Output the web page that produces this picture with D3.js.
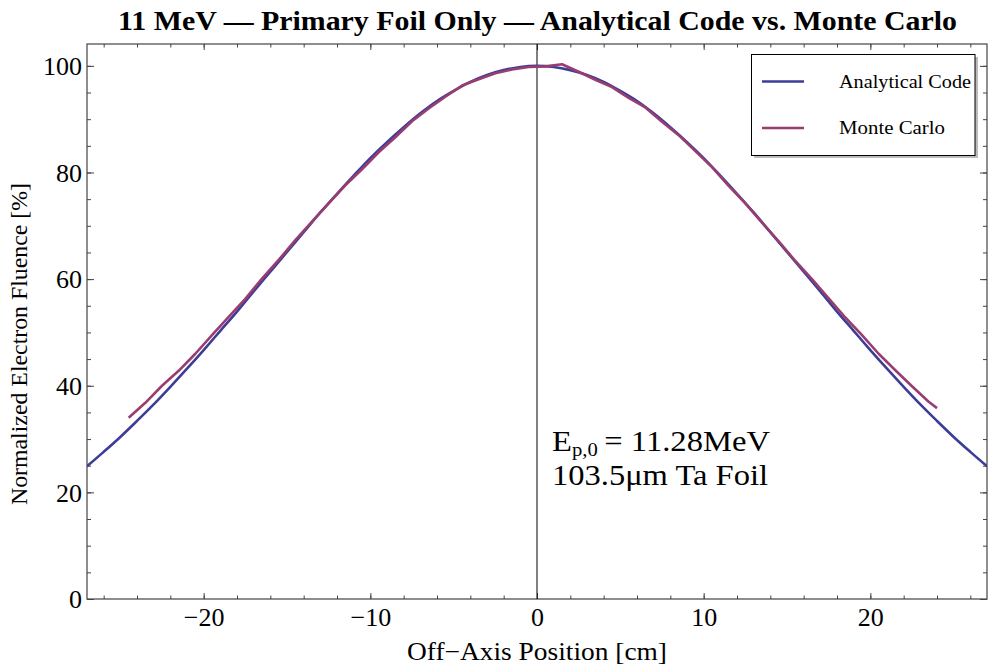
<!DOCTYPE html>
<html>
<head>
<meta charset="utf-8">
<script src="https://cdn.jsdelivr.net/npm/d3@7"></script>
<style>
  html, body { margin: 0; padding: 0; background: #fff; }
  svg { display: block; font-family: "Liberation Serif", "DejaVu Serif", serif; }
</style>
</head>
<body>
<svg id="chart" width="997" height="666"></svg>
<script>
// Off-axis position [cm] for the analytical curve
const analyticX = [-27,-26,-25,-24,-23,-22,-21,-20,-19,-18,-17,-16,-15,-14,-13,-12,-11,-10,-9,-8,-7,-6,-5,-4,-3,-2,-1,
  0,1,2,3,4,5,6,7,8,9,10,11,12,13,14,15,16,17,18,19,20,21,22,23,24,25,26,27];
// Normalized fluence [%] from the analytical code
const analyticY = [24.9,27.6,30.4,33.4,36.5,39.8,43.2,46.7,50.3,53.9,57.7,61.4,65.1,68.8,72.5,76.0,79.4,82.7,85.7,88.5,91.1,93.4,95.3,97.0,98.3,99.2,99.8,
  100,99.8,99.2,98.3,97.0,95.3,93.4,91.1,88.5,85.7,82.7,79.4,76.0,72.5,68.8,65.1,61.4,57.7,53.9,50.3,46.7,43.2,39.8,36.5,33.4,30.4,27.6,24.9];

// Monte Carlo bins [cm] and scored fluence [%]
const mcX = [-24.5,-23.5,-22.5,-21.5,-20.5,-19.5,-18.5,-17.5,-16.5,-15.5,-14.5,-13.5,-12.5,-11.5,-10.5,-9.5,-8.5,-7.5,-6.5,-5.5,-4.5,-3.5,-2.5,-1.5,-0.5,
  0.5,1.5,2.5,3.5,4.5,5.5,6.5,7.5,8.5,9.5,10.5,11.5,12.5,13.5,14.5,15.5,16.5,17.5,18.5,19.5,20.5,21.5,22.5,23.5,24.0];
const mcY = [34.0,36.8,40.0,42.8,46.0,49.5,52.9,56.3,60.1,63.6,67.3,70.8,74.2,77.6,80.6,83.8,86.6,89.6,92.0,94.2,96.3,97.5,98.6,99.3,99.8,
  99.9,100.3,98.9,97.4,96.0,94.0,92.2,89.5,87.0,84.0,81.0,77.5,74.2,70.6,67.1,63.4,60.0,56.4,52.8,49.5,46.0,42.9,39.9,37.0,35.8];

const xTicks = [-20,-10,0,10,20];
const yTicks = [0,20,40,60,80,100];
const seriesNames = ["Analytical Code", "Monte Carlo"];
const seriesColors = ["#3d3d99", "#993d71"];

const titleText = "11 MeV \u2014 Primary Foil Only \u2014 Analytical Code vs. Monte Carlo";
const xLabel = "Off\u2212Axis Position [cm]";
const yLabel = "Normalized Electron Fluence [%]";

const svg = d3.select("#chart");
const plot = { left: 87, right: 987, top: 44, bottom: 599 };

const x = d3.scaleLinear().domain([-27, 27]).range([plot.left, plot.right]);
const y = d3.scaleLinear().domain([0, 104.1]).range([plot.bottom, plot.top]);

const frameColor = "#444";

// Clip for curves
svg.append("defs").append("clipPath").attr("id", "plotClip")
  .append("rect").attr("x", plot.left).attr("y", plot.top)
  .attr("width", plot.right - plot.left).attr("height", plot.bottom - plot.top);

// Minor and major ticks on all four sides
const xMinor = d3.range(-26, 27, 2);
const yMinor = d3.range(0, 105, 5);

function addAxis(axisGen, transform, ticks, size, labels) {
  const g = svg.append("g").attr("transform", transform)
    .call(axisGen.tickValues(ticks).tickSize(size).tickSizeOuter(0));
  g.select(".domain").remove();
  g.selectAll(".tick line").attr("stroke", frameColor).attr("stroke-width", 1);
  if (!labels) g.selectAll(".tick text").remove();
  return g;
}

// bottom
addAxis(d3.axisTop(x), `translate(0,${plot.bottom})`, xMinor, 3.5, false);
const gxb = addAxis(d3.axisTop(x), `translate(0,${plot.bottom})`, xTicks, 6, true);
gxb.selectAll(".tick text").attr("y", 27).attr("dy", 0)
  .attr("font-size", 26).attr("fill", "#000").attr("font-family", "Liberation Serif");
// top
addAxis(d3.axisBottom(x), `translate(0,${plot.top})`, xMinor, 3.5, false);
addAxis(d3.axisBottom(x), `translate(0,${plot.top})`, xTicks, 6, false);
// left
addAxis(d3.axisRight(y), `translate(${plot.left},0)`, yMinor, 4, false);
const gyl = addAxis(d3.axisRight(y), `translate(${plot.left},0)`, yTicks, 7, true);
gyl.selectAll(".tick text").attr("x", -5).attr("dy", "0.34em").attr("text-anchor", "end")
  .attr("font-size", 26).attr("fill", "#000").attr("font-family", "Liberation Serif");
// right
addAxis(d3.axisLeft(y), `translate(${plot.right},0)`, yMinor, 4, false);
addAxis(d3.axisLeft(y), `translate(${plot.right},0)`, yTicks, 7, false);

// Frame
svg.append("rect")
  .attr("x", plot.left).attr("y", plot.top)
  .attr("width", plot.right - plot.left).attr("height", plot.bottom - plot.top)
  .attr("fill", "none").attr("stroke", frameColor).attr("stroke-width", 1.2);

// Beam axis marker
svg.append("line")
  .attr("x1", x(0)).attr("x2", x(0)).attr("y1", plot.top).attr("y2", plot.bottom)
  .attr("stroke", "#000").attr("stroke-width", 1);

// Curves
const curves = svg.append("g").attr("clip-path", "url(#plotClip)");
curves.append("path")
  .datum(d3.zip(analyticX, analyticY))
  .attr("d", d3.line().x(d => x(d[0])).y(d => y(d[1])).curve(d3.curveMonotoneX))
  .attr("fill", "none").attr("stroke", seriesColors[0]).attr("stroke-width", 2.6);
curves.append("path")
  .datum(d3.zip(mcX, mcY))
  .attr("d", d3.line().x(d => x(d[0])).y(d => y(d[1])))
  .attr("fill", "none").attr("stroke", seriesColors[1]).attr("stroke-width", 2.6)
  .attr("stroke-linejoin", "round");

// Annotation
const ann = svg.append("g").attr("font-size", 30).attr("fill", "#000");
const t1 = ann.append("text").attr("x", 552).attr("y", 451)
  .attr("textLength", 218).attr("lengthAdjust", "spacingAndGlyphs");
t1.append("tspan").text("E");
t1.append("tspan").attr("font-size", 19).attr("dy", 5).text("p,0");
t1.append("tspan").attr("dy", -5).text("\u2009= 11.28MeV");
ann.append("text").attr("x", 552).attr("y", 485)
  .attr("textLength", 216).attr("lengthAdjust", "spacingAndGlyphs").text("103.5\u03bcm Ta Foil");

// Legend
const lg = svg.append("g");
lg.append("rect").attr("x", 754).attr("y", 57).attr("width", 224).attr("height", 101)
  .attr("fill", "#bbb");
lg.append("rect").attr("x", 751.5).attr("y", 54.5).attr("width", 223.5).attr("height", 101)
  .attr("fill", "#fff").attr("stroke", "#000").attr("stroke-width", 1);
const legendWidths = [132, 106];
seriesNames.forEach((name, i) => {
  const cy = 81.5 + i * 46.5;
  lg.append("line").attr("x1", 762).attr("x2", 804).attr("y1", cy).attr("y2", cy)
    .attr("stroke", seriesColors[i]).attr("stroke-width", 2.6);
  lg.append("text").attr("x", 839).attr("y", cy + 6).attr("font-size", 19)
    .attr("textLength", legendWidths[i]).attr("lengthAdjust", "spacingAndGlyphs")
    .attr("fill", "#000").text(name);
});

// Titles
svg.append("text").attr("x", 537.5).attr("y", 30).attr("text-anchor", "middle")
  .attr("font-size", 27).attr("font-weight", "bold").attr("fill", "#000")
  .attr("textLength", 839).attr("lengthAdjust", "spacingAndGlyphs").text(titleText);
svg.append("text").attr("x", 537).attr("y", 660).attr("text-anchor", "middle")
  .attr("font-size", 25).attr("fill", "#000")
  .attr("textLength", 260).attr("lengthAdjust", "spacingAndGlyphs").text(xLabel);
svg.append("text").attr("transform", "translate(27,344) rotate(-90)").attr("text-anchor", "middle")
  .attr("font-size", 24).attr("fill", "#000")
  .attr("textLength", 322).attr("lengthAdjust", "spacingAndGlyphs").text(yLabel);
</script>
</body>
</html>
